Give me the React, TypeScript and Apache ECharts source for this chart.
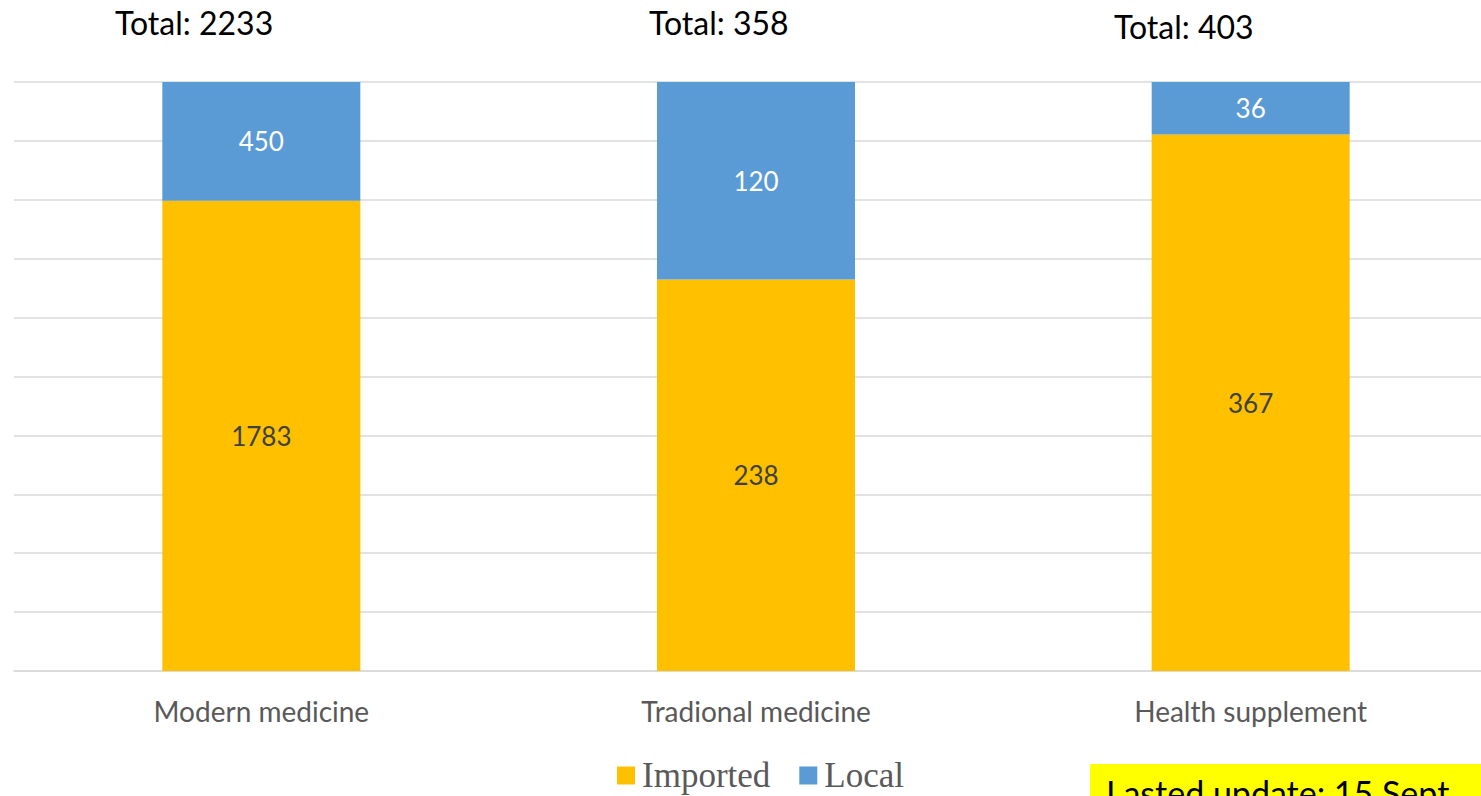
import React, { useEffect, useRef } from "react";
import * as echarts from "echarts";

const categories = ["Modern medicine", "Tradional medicine", "Health supplement"];
const imported = [1783, 238, 367];
const local = [450, 120, 36];
const totals = [2233, 358, 403];
const updateNote = "Lasted update: 15 Sept";

export default function App() {
  const ref = useRef<HTMLDivElement>(null);
  useEffect(() => {
    if (!ref.current) return;
    const chart = echarts.init(ref.current, null, { renderer: "svg" });
    const pct = (arr: number[]) => arr.map((v, i) => ({ value: (v / (imported[i] + local[i])) * 100, raw: v }));
    const font = "Lato, 'Open Sans', sans-serif";
    chart.setOption({
      animation: false,
      grid: { left: 14, right: 2, top: 82, bottom: 125, containLabel: false },
      xAxis: {
        type: "category",
        data: categories,
        axisLine: { lineStyle: { color: "#d9d9d9", width: 1.5 } },
        axisTick: { show: false },
        axisLabel: { color: "#595959", fontSize: 28, fontFamily: font, margin: 26 },
      },
      yAxis: {
        type: "value",
        min: 0,
        max: 100,
        interval: 10,
        axisLabel: { show: false },
        axisLine: { show: false },
        axisTick: { show: false },
        splitLine: { lineStyle: { color: "#d9d9d9", width: 1.5 } },
      },
      legend: {
        left: 617,
        top: 758,
        padding: 0,
        itemWidth: 18,
        itemHeight: 18,
        itemGap: 29,
        icon: "rect",
        textStyle: { fontFamily: "'Liberation Serif', 'DejaVu Serif', serif", fontSize: 35, color: "#595959", padding: [0, 0, 0, 2] },
        data: ["Imported", "Local"],
      },
      series: [
        {
          name: "Imported",
          type: "bar",
          stack: "s",
          barWidth: 198,
          itemStyle: { color: "#ffc000" },
          label: {
            show: true,
            position: "inside",
            color: "#404040",
            fontSize: 26,
            fontFamily: font,
            formatter: (p: any) => String(p.data.raw),
          },
          data: pct(imported),
        },
        {
          name: "Local",
          type: "bar",
          stack: "s",
          barWidth: 198,
          itemStyle: { color: "#5b9bd5" },
          label: {
            show: true,
            position: "inside",
            color: "#ffffff",
            fontSize: 26,
            fontFamily: font,
            formatter: (p: any) => String(p.data.raw),
          },
          data: pct(local),
        },
      ],
      graphic: [
        { type: "text", left: 115, top: 6, style: { text: "Total: " + totals[0], fontSize: 32, fontFamily: font, fill: "#000" } },
        { type: "text", left: 649, top: 6, style: { text: "Total: " + totals[1], fontSize: 32, fontFamily: font, fill: "#000" } },
        { type: "text", left: 1114, top: 10, style: { text: "Total: " + totals[2], fontSize: 32, fontFamily: font, fill: "#000" } },
        { type: "rect", shape: { x: 1090, y: 764, width: 420, height: 40 }, style: { fill: "#ffff00" } },
        { type: "text", left: 1106, top: 775, style: { text: updateNote, fontSize: 34, fontFamily: font, fill: "#000" } },
      ],
    });
    return () => chart.dispose();
  }, []);
  return (
    <div
      ref={ref}
      style={{ position: "fixed", left: 0, top: 0, width: 1500, height: 796, background: "#fff" }}
    />
  );
}
